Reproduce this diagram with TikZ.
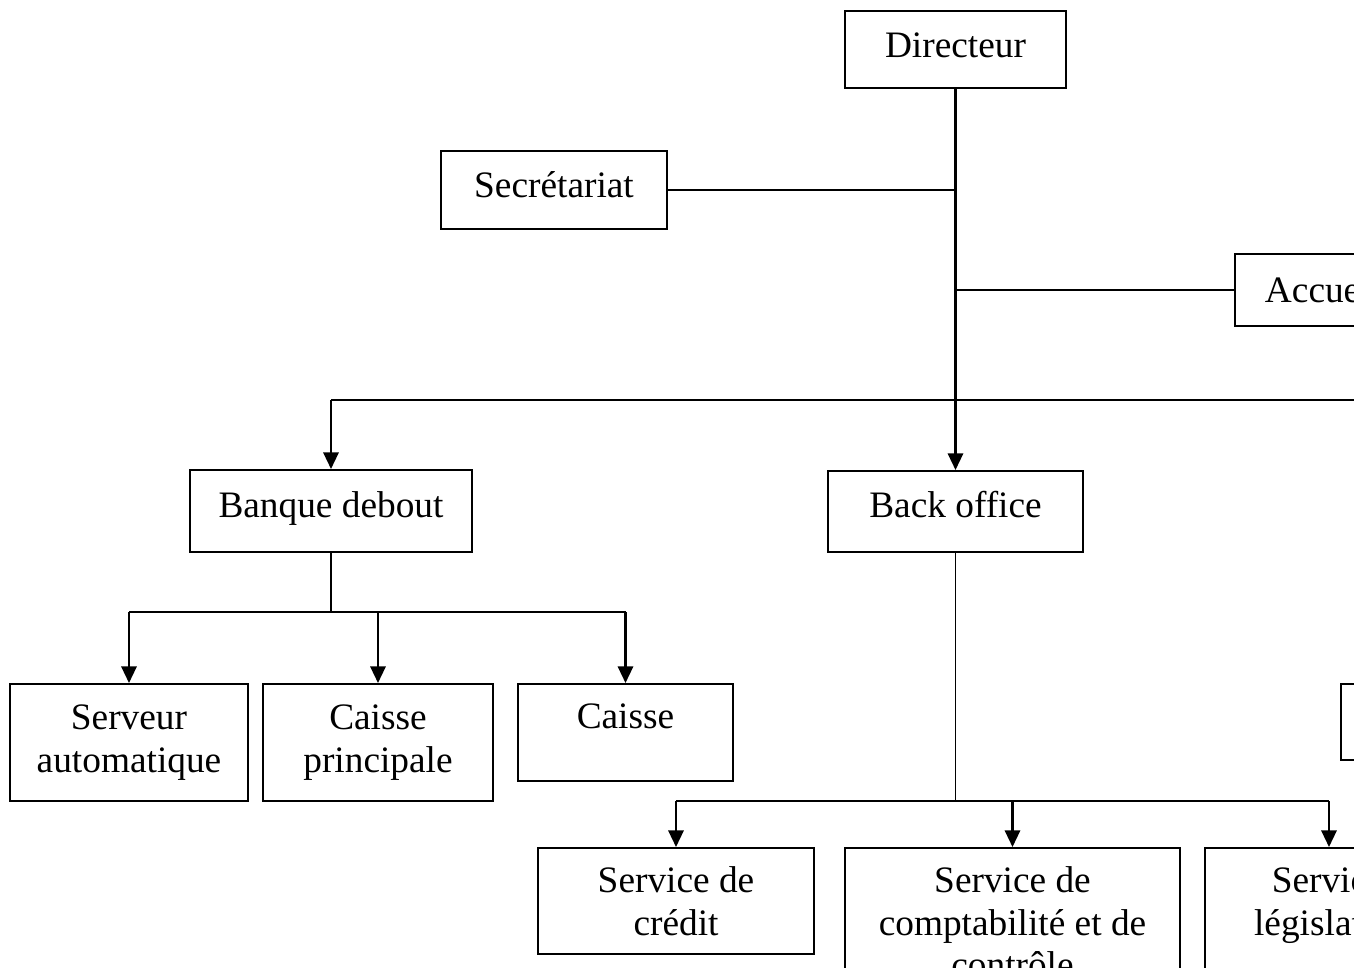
\documentclass[tikz,border=0pt]{standalone}
\usepackage{fontspec}
\setmainfont{Liberation Serif}
\usepackage{tikz}
\usetikzlibrary{arrows.meta}

\tikzset{
  boite/.style={draw, line width=1.5pt, inner sep=0pt, align=center,
    font=\fontsize{28}{32}\selectfont},
  trait/.style={line width=1.7pt},
  fin/.style={line width=1.3pt},
  fleche/.style={line width=1.7pt, -{Triangle[length=12.5pt,width=11.5pt]}}
}

\begin{document}
\begin{tikzpicture}[x=0.75pt,y=-0.75pt]
        \useasboundingbox (0,0) rectangle (1354,968);
        \clip (0,0) rectangle (1354,968);
        % boites
        \node[boite, minimum width=165.75pt, minimum height=57.75pt, text depth=6pt] (dir) at (955.5,49.5) {Directeur};
        \node[boite, minimum width=169.5pt, minimum height=58.5pt, text depth=7.5pt] (sec) at (554,190) {Secrétariat};
        \node[boite, minimum width=132pt, minimum height=54pt] (acc) at (1323,290) {Accueil};
        \node[boite, minimum width=211.5pt, minimum height=61.5pt, text depth=10pt] (banque) at (331,511) {Banque debout};
        \node[boite, minimum width=191.25pt, minimum height=60.75pt, text depth=10.5pt] (back) at (955.5,511.5) {Back office};
        \node[boite, minimum width=178.5pt, minimum height=87.75pt] (serveur) at (129,742.5) {Serveur\\automatique};
        \node[boite, minimum width=172.5pt, minimum height=87.75pt] (cprinc) at (378,742.5) {Caisse\\principale};
        \node[boite, minimum width=161.25pt, minimum height=72.75pt, text depth=24pt] (caisse) at (625.5,732.5) {Caisse};
        \node[boite, minimum width=150pt, minimum height=57pt] (autre) at (1441,722) {};
        \node[boite, minimum width=207pt, minimum height=79.5pt] (credit) at (676,901) {Service de\\crédit};
        \node[boite, minimum width=251.25pt, minimum height=111.75pt] (compta) at (1012.5,922.5) {Service de\\comptabilité et de\\contrôle};
        \node[boite, minimum width=218.25pt, minimum height=111.75pt] (legis) at (1350,922.5) {Service de\\législation et\\\mbox{}};

        % liaisons
        \draw[fleche] (dir.south) -- (back.north);
        \draw[fin] (sec.east) -- (sec.east -| dir.south);
        \draw[fin] (acc.west) -- (acc.west -| dir.south);
        \coordinate (bus) at (331,400);
        \coordinate (busd) at (1400,400);
        \draw[trait] (bus) -- (busd);
        \draw[fleche] (bus) -- (banque.north);

        \coordinate (b1) at (331,612);
        \draw[fin] (banque.south) -- (b1);
        \draw[trait] (serveur.north |- b1) -- (caisse.north |- b1);
        \foreach \n in {serveur,cprinc,caisse}
        \draw[fleche] (\n.north |- b1) -- (\n.north);

        \coordinate (b2) at (955.5,801);
        \coordinate (b3) at (1329,801);
        \draw[fin] (back.south) -- (b2);
        \draw[trait] (credit.north |- b2) -- (b3);
        \foreach \n in {credit,compta}
        \draw[fleche] (\n.north |- b2) -- (\n.north);
        \draw[fleche] (b3) -- (b3 |- legis.north);
    \end{tikzpicture}
\end{document}
